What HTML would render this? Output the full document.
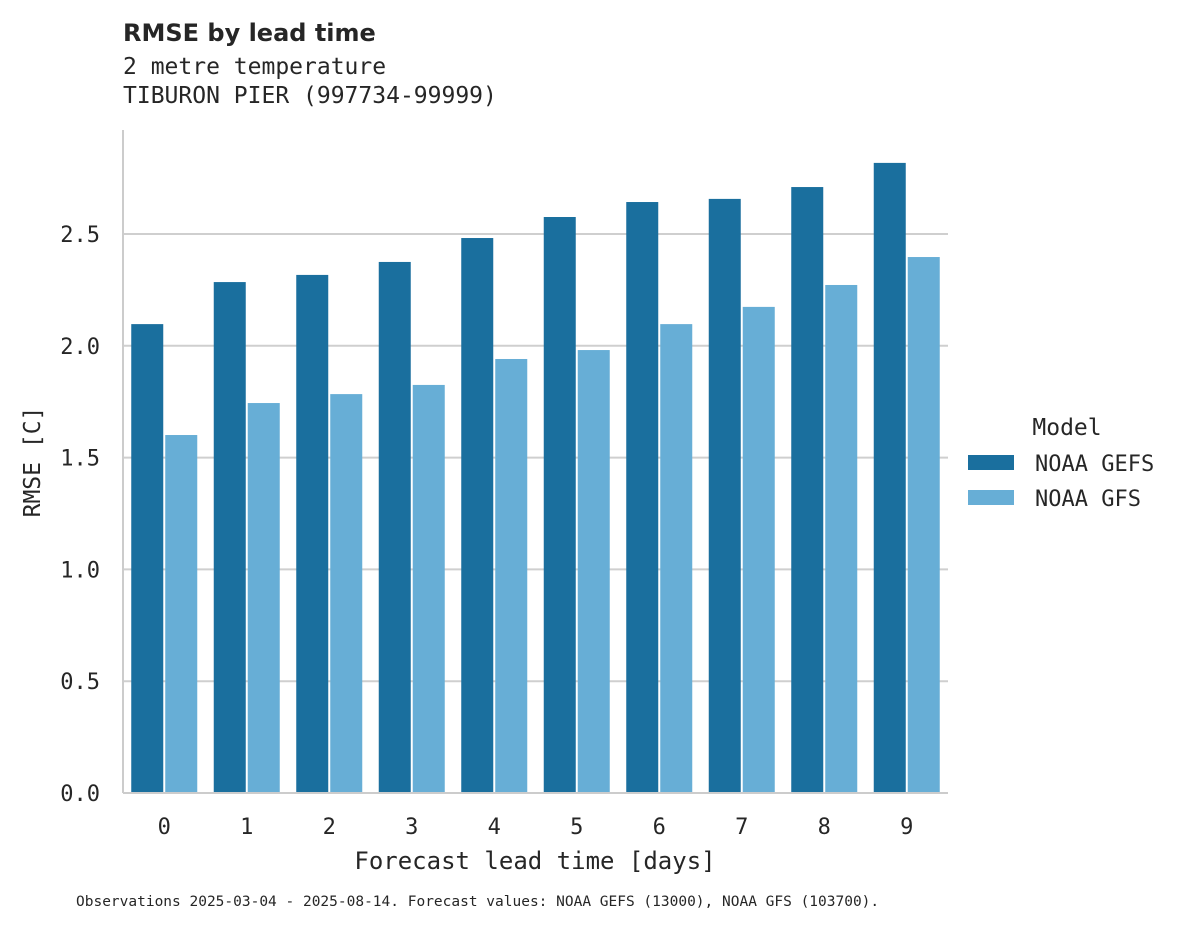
<!DOCTYPE html>
<html><head><meta charset="utf-8"><style>
body{margin:0;background:#fff;}
svg text{font-family:"DejaVu Sans Mono","Liberation Mono",monospace;fill:#262626;}
</style></head><body>
<svg width="1188" height="928" xmlns="http://www.w3.org/2000/svg">
<text x="123" y="41" style="font-family:'DejaVu Sans','Liberation Sans',sans-serif;font-weight:bold;font-size:24px">RMSE by lead time</text>
<text x="123" y="74" font-size="23">2 metre temperature</text>
<text x="123" y="103" font-size="23">TIBURON PIER (997734-99999)</text>
<g id="grid"></g>
<g id="bars"></g>
<g id="yticks"></g>
<g id="xticks"></g>
<line x1="123" y1="130" x2="123" y2="793" stroke="#ccc" stroke-width="2"/>
<line x1="123" y1="793" x2="948" y2="793" stroke="#ccc" stroke-width="2"/>
<text x="40" y="462" font-size="23" text-anchor="middle" transform="rotate(-90 40 462)">RMSE [C]</text>
<text x="535" y="869" font-size="24" text-anchor="middle">Forecast lead time [days]</text>
<g>
<text x="1067" y="435" font-size="23" text-anchor="middle">Model</text>
<rect x="968" y="455" width="46" height="15" fill="#1a6f9e"/>
<text x="1035" y="471" font-size="22">NOAA GEFS</text>
<rect x="968" y="490" width="46" height="15" fill="#67aed6"/>
<text x="1035" y="506" font-size="22">NOAA GFS</text>
</g>
<text x="76" y="906" font-size="14.5">Observations 2025-03-04 - 2025-08-14. Forecast values: NOAA GEFS (13000), NOAA GFS (103700).</text>
</svg>
<script>
const categories=["0","1","2","3","4","5","6","7","8","9"];
const gefs=[2.097,2.285,2.317,2.375,2.482,2.576,2.643,2.657,2.710,2.818];
const gfs=[1.601,1.744,1.784,1.825,1.941,1.981,2.097,2.174,2.272,2.397];
const yTicks=[0,0.5,1,1.5,2,2.5];
const yTickLabels=["0.0","0.5","1.0","1.5","2.0","2.5"];
const NS="http://www.w3.org/2000/svg";
const y=v=>793-v*223.6;
const band=82.5, x0=123;
const xc=i=>x0+band*(i+0.5);
function mk(tag,attrs,parent){const e=document.createElementNS(NS,tag);for(const k in attrs)e.setAttribute(k,attrs[k]);parent.appendChild(e);return e;}
const grid=document.getElementById('grid'),bars=document.getElementById('bars'),yt=document.getElementById('yticks'),xt=document.getElementById('xticks');
yTicks.forEach((t,i)=>{
 if(t>0){const l=mk('line',{x1:123,x2:948,y1:y(t),y2:y(t),stroke:'#cfcfcf','stroke-width':2},grid);
 
 }
 const tx=mk('text',{x:100,y:y(t)+8,'font-size':22,'text-anchor':'end'},yt);tx.textContent=yTickLabels[i];
 
 
});
const bw=33;
categories.forEach((c,i)=>{
 const a=mk('rect',{x:xc(i)-bw,y:y(gefs[i]),width:bw-1,height:y(0)-y(gefs[i]),fill:'#1a6f9e'},bars);
 
 
 const b=mk('rect',{x:xc(i)+1,y:y(gfs[i]),width:bw-1,height:y(0)-y(gfs[i]),fill:'#67aed6'},bars);
 
 
 const t=mk('text',{x:xc(i),y:834,'font-size':22,'text-anchor':'middle'},xt);t.textContent=c;
 
 
});
</script>
</body></html>
